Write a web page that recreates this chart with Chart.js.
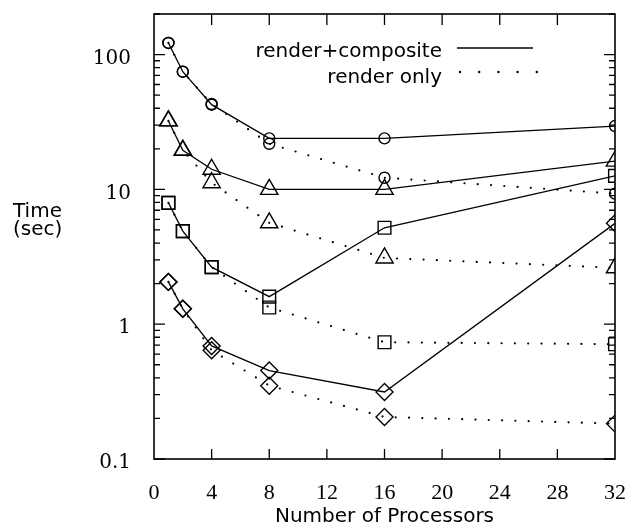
<!DOCTYPE html>
<html>
<head>
<meta charset="utf-8">
<script src="https://cdn.jsdelivr.net/npm/chart.js@4/dist/chart.umd.min.js"></script>
<style>
  html, body { margin: 0; padding: 0; background: #fff; }
  canvas { display: block; }
</style>
</head>
<body>
<canvas id="timeChart" width="627" height="529"></canvas>
<script>
const processors = [1, 2, 4, 8, 16, 32];

// render+composite (solid)
const compCircle = [122, 74.6, 42.5, 23.9, 23.9, 29.5];
const compTriangle = [32.2, 19.5, 14.1, 10, 10, 16.2];
const compSquare = [7.95, 4.9, 2.65, 1.6, 5.19, 12.6];
const compDiamond = [2.06, 1.3, 0.69, 0.453, 0.314, 5.6];

// render only (dotted)
const renderCircle = [122, 74.6, 43, 21.8, 12.2, 9.3];
const renderTriangle = [32.2, 19.5, 11.2, 5.65, 3.1, 2.62];
const renderSquare = [7.95, 4.9, 2.65, 1.33, 0.735, 0.71];
const renderDiamond = [2.06, 1.3, 0.64, 0.35, 0.205, 0.183];

const xTicks = [0, 4, 8, 12, 16, 20, 24, 28, 32];
const yTicks = [0.1, 1, 10, 100];
const yTickLabels = ['0.1', '1', '10', '100'];

const markers = [
    { style: 'circle', radius: 5.5 },
    { style: 'triangle', radius: 10 },
    { style: 'rect', radius: 9 },
    { style: 'rectRot', radius: 8.5 }
];

function pts(values) {
    return processors.map((p, i) => ({ x: p, y: values[i] }));
}

function solid(values, m) {
    return {
        data: pts(values),
        borderColor: '#000',
        borderWidth: 1.3,
        pointStyle: m.style,
        pointRadius: m.radius,
        pointBorderColor: '#000',
        pointBackgroundColor: 'rgba(0,0,0,0)',
        pointBorderWidth: 1.4,
        tension: 0,
        fill: false
    };
}

function dotted(values, m) {
    return Object.assign(solid(values, m), {
        borderWidth: 2.2,
        borderDash: [0, 13.3],
        borderCapStyle: 'round'
    });
}

function noPadding(s) {
    s.paddingLeft = 0;
    s.paddingRight = 0;
    s.paddingTop = 0;
    s.paddingBottom = 0;
}

const frameAndTicks = {
    id: 'frameAndTicks',
    beforeDatasetsDraw(chart) {
        const ctx = chart.ctx;
        const a = chart.chartArea;
        const xs = chart.scales.x;
        const ys = chart.scales.y;
        ctx.save();
        ctx.strokeStyle = '#000';
        ctx.lineWidth = 1.6;
        ctx.strokeRect(a.left, a.top, a.right - a.left, a.bottom - a.top);
        ctx.lineWidth = 1.3;
        ctx.beginPath();
        xTicks.slice(1, -1).forEach(v => {
            const px = xs.getPixelForValue(v);
            ctx.moveTo(px, a.bottom); ctx.lineTo(px, a.bottom - 10);
            ctx.moveTo(px, a.top); ctx.lineTo(px, a.top + 11);
        });
        for (let d = 0.1; d < 200; d *= 10) {
            for (let k = 1; k <= 9; k++) {
                const v = d * k;
                if (v > 200) break;
                const py = ys.getPixelForValue(v);
                const len = k === 1 ? 11 : 6;
                ctx.moveTo(a.left, py); ctx.lineTo(a.left + len, py);
                ctx.moveTo(a.right, py); ctx.lineTo(a.right - len, py);
            }
        }
        ctx.stroke();
        ctx.restore();
    },
    afterDraw(chart) {
        const ctx = chart.ctx;
        ctx.save();
        ctx.fillStyle = '#000';
        ctx.strokeStyle = '#000';
        ctx.font = '20px "DejaVu Sans"';
        ctx.textAlign = 'right';
        ctx.textBaseline = 'alphabetic';
        ctx.fillText('render+composite', 442, 56.5);
        ctx.fillText('render only', 442, 82.5);
        ctx.lineWidth = 1.3;
        ctx.beginPath();
        ctx.moveTo(457, 48); ctx.lineTo(533, 48);
        ctx.stroke();
        for (let x = 460; x <= 538; x += 19.2) {
            ctx.beginPath();
            ctx.arc(x, 72, 1.2, 0, Math.PI * 2);
            ctx.fill();
        }
        // y axis title, horizontal
        ctx.textAlign = 'left';
        ctx.fillText('Time', 13, 217);
        ctx.fillText('(sec)', 13, 235);
        ctx.restore();
    }
};

new Chart(document.getElementById('timeChart'), {
    type: 'line',
    data: {
        datasets: [
            solid(compCircle, markers[0]),
            solid(compTriangle, markers[1]),
            solid(compSquare, markers[2]),
            solid(compDiamond, markers[3]),
            dotted(renderCircle, markers[0]),
            dotted(renderTriangle, markers[1]),
            dotted(renderSquare, markers[2]),
            dotted(renderDiamond, markers[3])
        ]
    },
    options: {
        responsive: false,
        animation: false,
        devicePixelRatio: 1,
        layout: { padding: { left: 0, right: 12, top: 14, bottom: 0 } },
        plugins: {
            legend: { display: false },
            tooltip: { enabled: false }
        },
        scales: {
            x: {
                type: 'linear',
                min: 0,
                max: 32,
                afterBuildTicks: s => { s.ticks = xTicks.map(v => ({ value: v })); },
                afterFit: s => { s.height = 70; noPadding(s); },
                grid: { display: false },
                border: { display: false },
                ticks: {
                    padding: 13,
                    color: '#000',
                    maxRotation: 0,
                    autoSkip: false,
                    font: { family: '"Liberation Serif"', size: 22 }
                },
                title: {
                    display: true,
                    text: 'Number of Processors',
                    color: '#000',
                    padding: 0,
                    font: { family: '"DejaVu Sans"', size: 20 }
                }
            },
            y: {
                type: 'logarithmic',
                min: 0.1,
                max: 200,
                afterBuildTicks: s => { s.ticks = yTicks.map(v => ({ value: v })); },
                afterFit: s => { s.width = 154; noPadding(s); },
                grid: { display: false },
                border: { display: false },
                ticks: {
                    padding: 15,
                    labelOffset: 4,
                    color: '#000',
                    autoSkip: false,
                    font: { family: '"DejaVu Serif"', size: 20 },
                    callback: (v) => {
                        const i = yTicks.findIndex(t => Math.abs(t - v) < 1e-9);
                        return i >= 0 ? yTickLabels[i] : '';
                    }
                }
            }
        }
    },
    plugins: [frameAndTicks]
});
</script>
</body>
</html>
